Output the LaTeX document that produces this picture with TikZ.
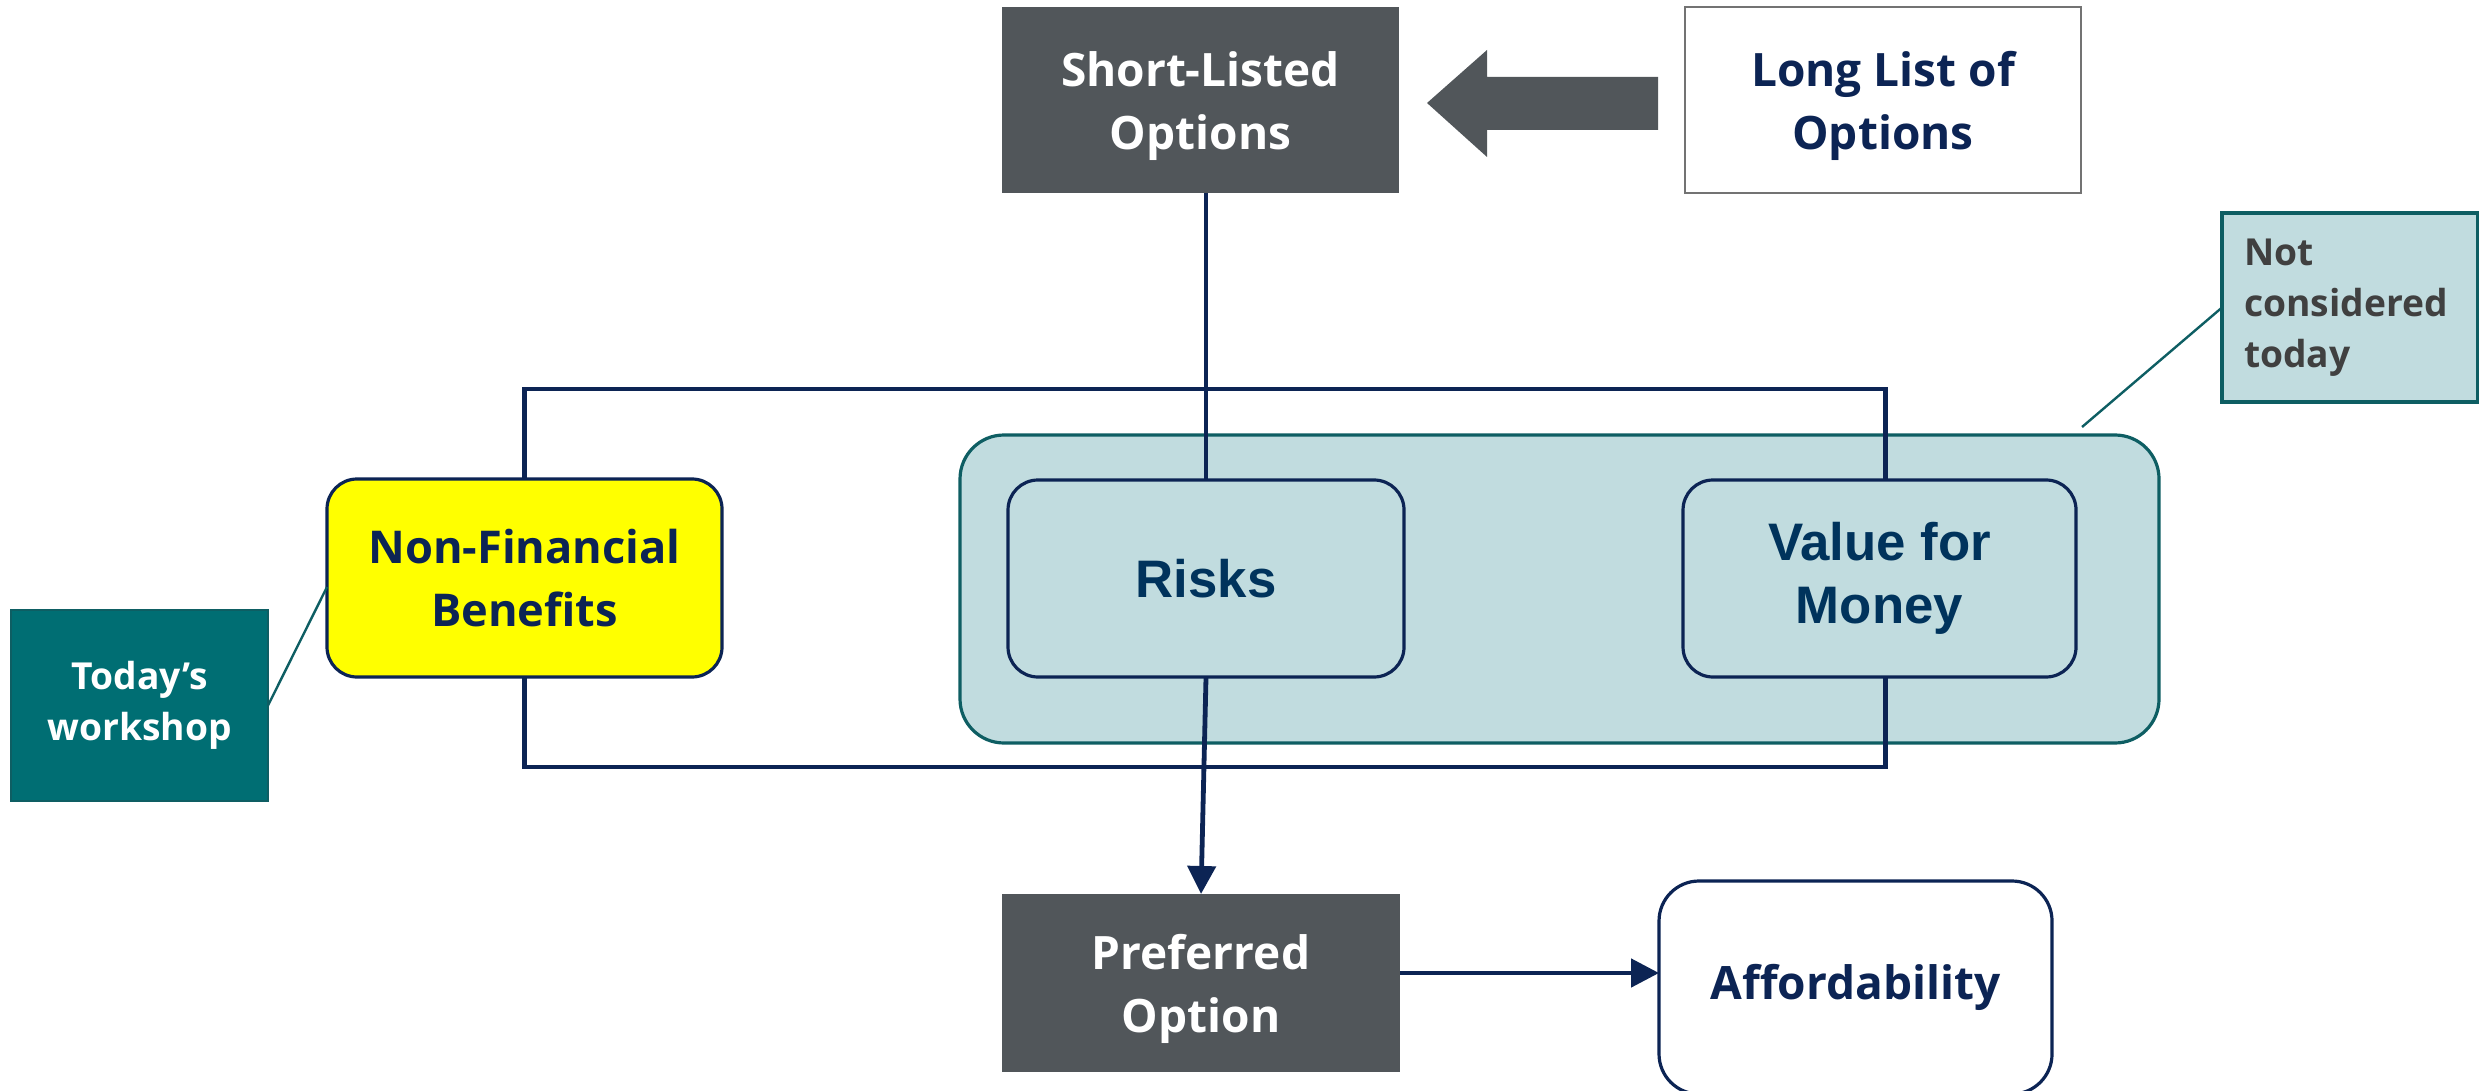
\documentclass[tikz,border=0pt]{standalone}
\usepackage{fontspec}
\setmainfont{Open Sans}
\newfontfamily\arialf{Liberation Sans}
\usetikzlibrary{arrows.meta,calc}
\definecolor{navy}{HTML}{0C2454}
\definecolor{riskblue}{HTML}{00335C}
\definecolor{darkbox}{HTML}{51565A}
\definecolor{teal}{HTML}{006E73}
\definecolor{lteal}{HTML}{C1DCDF}
\definecolor{dteal}{HTML}{0E5E63}
\definecolor{greytxt}{HTML}{404040}
\definecolor{ybox}{HTML}{FFFF00}
\tikzset{
  box/.style={inner sep=0pt, outer sep=0pt, align=center},
  darkrect/.style={box, fill=darkbox},
  whiterect/.style={box, draw=gray!90!black, line width=0.7pt, fill=white},
  whitetxt/.style={box, text=white, font=\bfseries\fontsize{11.5}{15.75}\selectfont},
  navytxt/.style={box, text=navy, font=\bfseries\fontsize{11.5}{15.75}\selectfont},
  roundbox/.style={box, draw=navy, line width=0.8pt, rounded corners=7.5pt},
  arialtxt/.style={text=riskblue, font=\arialf\bfseries\fontsize{13.2}{15.75}\selectfont},
  conn/.style={draw=navy, line width=1.2pt},
  arr/.style={conn, -{Triangle[length=7pt,width=7pt]}},
  callout/.style={draw=dteal, line width=0.6pt},
}
\begin{document}
\begin{tikzpicture}[x=0.25pt,y=-0.25pt]
\useasboundingbox (0,0) rectangle (2479,1090);

% container
\node[box, draw=dteal, line width=0.8pt, fill=lteal, rounded corners=11pt,
      minimum width=299.75pt, minimum height=77pt] (cont) at (1559.5,589) {};

% top row
\node[darkrect, minimum width=99.25pt, minimum height=46.5pt] (sl) at (1200.5,100) {};
\node[whitetxt] (sltxt) at ($(sl)+(0,6)$) {Short-Listed\\Options};
\node[whiterect, minimum width=99pt, minimum height=46.5pt] (ll) at (1883,100) {};
\node[navytxt] (lltxt) at ($(ll)+(0,6)$) {Long List of\\Options};

% big block arrow from long list to short list
\fill[darkbox] (1427,103) -- (1487,50) -- (1487,77) -- (1658,77) -- (1658,130)
   -- (1487,130) -- (1487,157) -- cycle;

% middle row
\node[roundbox, fill=ybox, text=navy, font=\bfseries\fontsize{11.3}{15.75}\selectfont,
      minimum width=98.75pt, minimum height=49.5pt] (nfb) at (524.5,578) {Non-Financial\\Benefits};
\node[roundbox, fill=lteal, arialtxt, minimum width=99pt, minimum height=49.25pt] (risks) at (1206,578.5) {Risks};
\node[roundbox, fill=lteal, arialtxt, minimum width=98.25pt, minimum height=49.25pt] (vfm) at (1879.5,578.5) {Value for\\Money};

% bottom row
\node[darkrect, minimum width=99.5pt, minimum height=44.5pt] (pref) at (1201,983) {};
\node[whitetxt] (preftxt) at ($(pref)+(0,6)$) {Preferred\\Option};
\node[roundbox, fill=white, text=navy, rounded corners=10pt, font=\bfseries\fontsize{11.5}{15.75}\selectfont,
      minimum width=98.25pt, minimum height=53.25pt] (aff) at (1855.5,987.5) {Affordability};

% callouts
\node[box, fill=teal, draw=dteal, line width=0.5pt, text=white, font=\bfseries\fontsize{9.3}{12.75}\selectfont,
      minimum width=64.25pt, minimum height=47.75pt] (today) at (139.5,705.5) {Today’s\\workshop};
\node[box, fill=lteal, draw=dteal, line width=0.8pt, text=greytxt, align=left,
      font=\bfseries\fontsize{9.3}{12.8}\selectfont, text width=53pt,
      minimum width=64pt, minimum height=47.25pt] (notc) at (2350,307.5) {Not\\considered\\today};

% connectors
\draw[conn] (risks.north |- sl.south) -- (risks.north);
\draw[conn] (nfb.north) -- (nfb.north |- 0,389) -| ([xshift=1.5pt]vfm.north);
\draw[conn] (nfb.south) -- (nfb.south |- 0,767) -| ([xshift=1.5pt]vfm.south);
\draw[arr] (risks.south) -- (pref.north);
\draw[arr] ([yshift=2.5pt]pref.east) -- ([yshift=2.5pt]pref.east -| aff.west);

\coordinate (nfbpt) at ($(nfb.west)+(0,9)$);
\coordinate (contpt) at ($(cont.north east)+(-77,-8)$);
\draw[callout] (today.east) -- (nfbpt);
\draw[callout] (notc.west) -- (contpt);
\end{tikzpicture}
\end{document}
